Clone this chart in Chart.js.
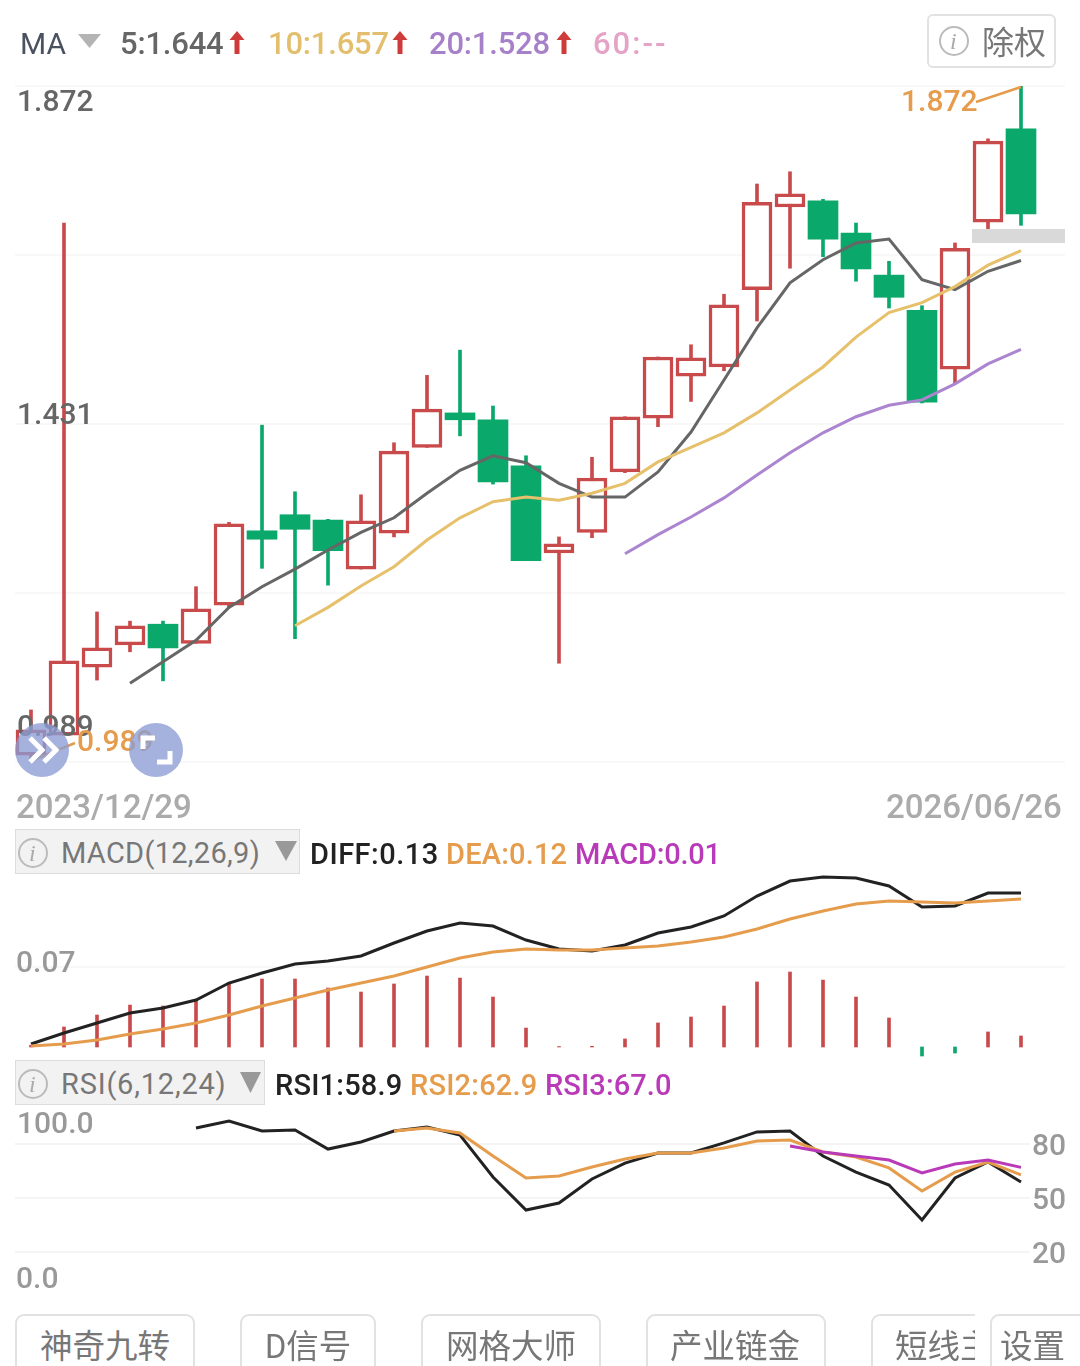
<!DOCTYPE html>
<html>
<head>
<meta charset="utf-8">
<title>K线</title>
<script src="https://cdn.jsdelivr.net/npm/chart.js@4/dist/chart.umd.min.js"></script>
<style>
  html, body { margin: 0; padding: 0; background: #fff; }
  #page { position: relative; width: 1080px; height: 1366px; overflow: hidden; font-family: Roboto, "Noto Sans CJK SC", sans-serif; }
  #page canvas { position: absolute; left: 0; top: 0; }
  .t { position: absolute; white-space: nowrap; line-height: 1; transform: translateY(-50%); }
  .box { position: absolute; box-sizing: border-box; }
  .tabs { border: 2px solid #e2e2e2; border-bottom: none; border-radius: 9px 9px 0 0; background: #fff; overflow: hidden; }
  svg { position: absolute; left: 0; top: 0; }
</style>
</head>
<body>
<div id="page">
  <canvas id="kline" width="1080" height="1366"></canvas>
  <canvas id="macd" width="1080" height="1366"></canvas>
  <canvas id="rsi" width="1080" height="1366"></canvas>
</div>
<script>
// daily candles, oldest first
const opens  = [0.998,1.024,1.113,1.142,1.169,1.144,1.194,1.291,1.312,1.305,1.241,1.288,1.400,1.445,1.436,1.376,1.262,1.289,1.368,1.438,1.493,1.505,1.606,1.714,1.722,1.680,1.625,1.579,1.502,1.694,1.816];
const closes = [1.031,1.121,1.138,1.167,1.138,1.189,1.300,1.280,1.293,1.265,1.304,1.395,1.450,1.436,1.355,1.252,1.274,1.360,1.440,1.518,1.517,1.586,1.720,1.731,1.672,1.633,1.596,1.459,1.660,1.800,1.705];
const highs  = [1.057,1.693,1.185,1.173,1.173,1.218,1.302,1.429,1.342,1.306,1.338,1.406,1.494,1.527,1.454,1.389,1.283,1.387,1.440,1.518,1.534,1.600,1.744,1.760,1.724,1.693,1.643,1.585,1.667,1.803,1.872];
const lows   = [0.989,1.024,1.096,1.133,1.095,1.144,1.191,1.242,1.150,1.220,1.241,1.283,1.400,1.415,1.352,1.252,1.118,1.282,1.367,1.427,1.460,1.500,1.565,1.634,1.649,1.617,1.582,1.458,1.483,1.685,1.690];

// moving averages, they start once enough days exist
const ma5Start = 3;
const ma5 = [1.092,1.120,1.148,1.191,1.218,1.241,1.266,1.289,1.308,1.340,1.370,1.389,1.380,1.353,1.335,1.335,1.368,1.420,1.488,1.556,1.615,1.645,1.667,1.672,1.619,1.606,1.630,1.644];
const ma10Start = 8;
const ma10 = [1.167,1.191,1.219,1.244,1.279,1.308,1.329,1.335,1.331,1.340,1.353,1.381,1.400,1.419,1.445,1.475,1.505,1.544,1.576,1.589,1.610,1.638,1.657];
const ma20Start = 18;
const ma20 = [1.261,1.286,1.309,1.334,1.364,1.393,1.419,1.440,1.455,1.462,1.483,1.509,1.528];

const diff = [0.0025,0.0118,0.0203,0.0287,0.0329,0.0397,0.0540,0.0625,0.0701,0.0726,0.0768,0.0878,0.0979,0.1047,0.1021,0.0903,0.0827,0.0810,0.0861,0.0962,0.1013,0.1106,0.1274,0.1401,0.1435,0.1426,0.1359,0.1182,0.1190,0.1300,0.1300];
const dea  = [0.0008,0.0025,0.0059,0.0110,0.0152,0.0203,0.0270,0.0346,0.0414,0.0481,0.0540,0.0599,0.0675,0.0751,0.0802,0.0827,0.0819,0.0819,0.0836,0.0852,0.0886,0.0928,0.0996,0.1080,0.1148,0.1207,0.1232,0.1224,0.1215,0.1232,0.1249];
const macdBars = [0.0015,0.0169,0.0270,0.0354,0.0346,0.0397,0.0540,0.0574,0.0574,0.0498,0.0464,0.0532,0.0599,0.0582,0.0422,0.0160,0.0004,0.0006,0.0068,0.0203,0.0253,0.0346,0.0549,0.0633,0.0565,0.0422,0.0245,-0.0076,-0.0051,0.0127,0.0093];

const rsi1Start = 5;
const rsi1 = [88.9,92.8,87.2,87.8,77.2,81.1,87.2,89.4,85.0,61.7,43.3,47.2,60.6,69.4,75.0,75.0,80.6,86.7,87.2,73.3,64.4,57.2,37.8,61.1,70.0,58.9];
const rsi2Start = 11;
const rsi2 = [87.2,88.9,86.1,73.3,61.1,62.2,67.2,71.7,75.0,75.0,77.8,81.7,82.2,75.6,72.8,66.7,53.9,64.4,70.0,62.9];
const rsi3Start = 23;
const rsi3 = [78.9,75.6,73.3,71.1,63.9,68.9,71.1,67.0];

// axis values
const priceGrid = [1.872,1.651,1.431,1.210,0.989];
const macdGrid = [0.0675];
const rsiGrid = [80,50,20];
const dates = ['2023/12/29','2026/06/26'];
const tabs = ['神奇九转','D信号','网格大师','产业链金','短线主力','设置'];

const RED = '#c94a4b';
const GREEN = '#0aa86a';
const ORANGE = '#e59c4c';
const PURPLE = '#b93ab8';
const BLACK = '#222222';
const GRID = '#f8f8f8';
const FONT = 'Roboto, sans-serif';

// first candle centre and candle pitch in the drawing
const X0 = 31;
const PITCH = 33;

const last = a => a[a.length - 1];
const page = document.getElementById('page');

function addText(text, x, y, size, color, spacing, parent) {
  const el = document.createElement('div');
  el.className = 't';
  el.textContent = text;
  el.style.cssText = `left:${x}px;top:${y}px;font-size:${size}px;color:${color};letter-spacing:${spacing || 0}px`;
  (parent || page).appendChild(el);
  return el;
}
function addBox(x, y, w, h, css, cls) {
  const el = document.createElement('div');
  el.className = 'box ' + (cls || '');
  el.style.cssText = `left:${x}px;top:${y}px;width:${w}px;height:${h}px;${css || ''}`;
  page.appendChild(el);
  return el;
}
function addSvg(inner, css) {
  const wrap = document.createElement('div');
  wrap.innerHTML = `<svg width="1080" height="1366" style="${css || ''}">${inner}</svg>`;
  page.appendChild(wrap);
}

function points(values, start) {
  return values.map((v, i) => ({ x: start + i, y: v }));
}
function lineSet(values, start, color, width, order) {
  return { type: 'line', data: points(values, start), borderColor: color, borderWidth: width,
           pointRadius: 0, tension: 0, order: order };
}
// plot rectangle of a panel inside the full-page canvas
function panelOptions(area, yMin, yMax, gridValues) {
  return {
    responsive: false,
    animation: false,
    events: [],
    layout: { padding: { left: area.left, top: area.top, right: 1080 - area.right, bottom: 1366 - area.bottom } },
    plugins: { legend: { display: false }, tooltip: { enabled: false } },
    scales: {
      x: { type: 'linear', display: false, offset: false, min: (area.left - X0) / PITCH, max: (area.right - X0) / PITCH },
      y: {
        min: yMin, max: yMax,
        border: { display: false },
        grid: { color: GRID, lineWidth: 2, drawTicks: false },
        ticks: { display: false },
        afterFit: s => { s.width = 0; },
        afterBuildTicks: s => { s.ticks = gridValues.map(v => ({ value: v })); }
      }
    }
  };
}
function drawLabel(ctx, text, x, y, color, size) {
  ctx.save();
  ctx.font = `500 ${size}px ${FONT}`;
  ctx.fillStyle = color;
  ctx.textBaseline = 'middle';
  ctx.fillText(text, x, y);
  ctx.restore();
}

// candles: wick and body are two floating bar sets
const idx = opens.map((_, i) => i);
const candleColor = i => (closes[i] >= opens[i] ? RED : GREEN);

new Chart(document.getElementById('kline'), {
  type: 'bar',
  data: {
    datasets: [
      lineSet(ma20, ma20Start, '#ab85cf', 3, 1),
      lineSet(ma10, ma10Start, '#e6c06a', 3, 1),
      lineSet(ma5, ma5Start, '#666666', 3, 1),
      { data: idx.map(i => ({ x: i, y: [opens[i], closes[i]] })), grouped: false, order: 2, barThickness: 30,
        borderSkipped: false, borderWidth: idx.map(i => (closes[i] >= opens[i] ? 3.5 : 0)),
        borderColor: idx.map(candleColor),
        backgroundColor: idx.map(i => (closes[i] >= opens[i] ? '#ffffff' : GREEN)) },
      { data: idx.map(i => ({ x: i, y: [lows[i], highs[i]] })), grouped: false, order: 3, barThickness: 3,
        borderWidth: 0, backgroundColor: idx.map(candleColor) }
    ]
  },
  options: panelOptions({ left: 15, right: 1065, top: 86, bottom: 762 }, priceGrid[4], priceGrid[0], priceGrid),
  plugins: [{
    id: 'priceLabels',
    afterDraw(chart) {
      const { ctx, scales: { x, y } } = chart;
      drawLabel(ctx, priceGrid[0].toFixed(3), 17, 103, '#666', 30);
      drawLabel(ctx, priceGrid[2].toFixed(3), 17, 416, '#666', 30);
      drawLabel(ctx, priceGrid[4].toFixed(3), 17, 728, '#666', 30);

      // high and low callouts
      const hiX = x.getPixelForValue(highs.indexOf(Math.max(...highs)));
      const loX = x.getPixelForValue(lows.indexOf(Math.min(...lows)));
      ctx.save();
      ctx.strokeStyle = ORANGE;
      ctx.lineWidth = 2.5;
      ctx.beginPath();
      ctx.moveTo(hiX, y.getPixelForValue(Math.max(...highs)) + 1);
      ctx.lineTo(976, 102);
      ctx.moveTo(loX, y.getPixelForValue(Math.min(...lows)) - 1);
      ctx.lineTo(75, 743);
      ctx.stroke();
      ctx.restore();
      drawLabel(ctx, Math.max(...highs).toFixed(3), 901, 103, ORANGE, 30);
      drawLabel(ctx, Math.min(...lows).toFixed(3), 77, 743, ORANGE, 30);
    }
  }]
});

new Chart(document.getElementById('macd'), {
  type: 'bar',
  data: {
    datasets: [
      lineSet(dea, 0, ORANGE, 3, 1),
      lineSet(diff, 0, BLACK, 3, 2),
      { data: macdBars.map((v, i) => ({ x: i, y: v })), grouped: false, order: 3, barThickness: 3,
        backgroundColor: macdBars.map(v => (v >= 0 ? RED : GREEN)) }
    ]
  },
  // 0 sits at y=1047, one unit is 1185 px
  options: panelOptions({ left: 15, right: 1065, top: 870, bottom: 1060 }, -0.01097, 0.1494, macdGrid),
  plugins: [{
    id: 'macdLabels',
    afterDraw(chart) {
      drawLabel(chart.ctx, macdGrid[0].toFixed(2), 16, 964, '#999', 30);
    }
  }]
});

const rsiOptions = panelOptions({ left: 15, right: 1030, top: 1108, bottom: 1288 }, 0, 100, rsiGrid);
rsiOptions.scales.y.position = 'right';
rsiOptions.scales.y.grid.color = '#f4f4f4';
rsiOptions.scales.y.ticks = { display: true, color: '#999', padding: 2, labelOffset: 3, font: { family: FONT, size: 30, weight: '500' } };
rsiOptions.scales.y.afterFit = s => { s.width = 50; };
rsiOptions.layout.padding.right = 0;
new Chart(document.getElementById('rsi'), {
  type: 'line',
  data: {
    datasets: [
      lineSet(rsi3, rsi3Start, PURPLE, 3, 1),
      lineSet(rsi2, rsi2Start, ORANGE, 3, 2),
      lineSet(rsi1, rsi1Start, BLACK, 3, 3)
    ]
  },
  options: rsiOptions,
  plugins: [{
    id: 'rsiLabels',
    afterDraw(chart) {
      drawLabel(chart.ctx, (100).toFixed(1), 17, 1125, '#999', 30);
      drawLabel(chart.ctx, (0).toFixed(1), 16, 1280, '#999', 30);
    }
  }]
});

const medium = el => { el.style.fontWeight = 500; return el; };

// header row
addText('MA', 20, 44, 30, '#4a5260');
medium(addText('5:' + last(ma5).toFixed(3), 120, 43, 31, '#666666', -0.2));
medium(addText('10:' + last(ma10).toFixed(3), 268, 43, 31, '#e3bf6d', -0.2));
medium(addText('20:' + last(ma20).toFixed(3), 429, 43, 31, '#a680c8', -0.2));
medium(addText('60:--', 593, 43, 31, '#e5a3c8', 2));

// little grey triangles and red up arrows
const arrow = x => `<path d="M${x} 31 l7.500 9 h-5 v14 h-5 v-14 h-5 z" fill="#cf3a3a"/>`;
addSvg(
  '<path d="M78 34 h23 l-11.5 14 z" fill="#b4b4b4"/>' +
  '<path d="M275 841 h22 l-11 20 z" fill="#999"/>' +
  '<path d="M240 1072 h21 l-10.500 21 z" fill="#999"/>' +
  arrow(237) + arrow(400) + arrow(564),
  'z-index:3'
);

addBox(972, 229, 93, 14, 'background:#d9d9d9');

// 除权 button
addBox(927, 14, 129, 54, 'border:2px solid #e2e2e2;border-radius:6px');
addText('除权', 982, 43, 32, '#777');

// indicator selectors
addBox(15, 829, 285, 45, 'background:#f2f2f2;border:1px solid #dcdcdc');
addText('MACD(12,26,9)', 61, 853, 29, '#777', 0.3);
addBox(15, 1060, 250, 45, 'background:#f2f2f2;border:1px solid #dcdcdc');
addText('RSI(6,12,24)', 61, 1084, 29, '#777', 0.8);

// info marks
[[954, 41], [33, 853], [33, 1084]].forEach(([cx, cy]) => {
  addSvg(`<circle cx="${cx}" cy="${cy}" r="14" fill="none" stroke="#bbb" stroke-width="2"/>`, 'z-index:2');
  const mark = addText('i', cx - 4, cy, 24, '#aaa');
  mark.style.fontFamily = '"Liberation Serif", serif';
  mark.style.fontStyle = 'italic';
  mark.style.zIndex = 3;
});

medium(addText(dates[0], 16, 806, 33, '#ababab'));
medium(addText(dates[1], 886, 806, 33, '#ababab'));

medium(addText('DIFF:' + last(diff).toFixed(2), 310, 854, 29, BLACK, 0.5));
medium(addText('DEA:' + Math.floor(last(dea) * 100) / 100, 446, 854, 29, ORANGE, 0.2));
medium(addText('MACD:' + last(macdBars).toFixed(2), 575, 854, 29, PURPLE, -0.2));

medium(addText('RSI1:' + last(rsi1).toFixed(1), 275, 1085, 29, BLACK, 0.2));
medium(addText('RSI2:' + last(rsi2).toFixed(1), 410, 1085, 29, ORANGE, 0.2));
medium(addText('RSI3:' + last(rsi3).toFixed(1), 545, 1085, 29, PURPLE, 0.1));

// bottom tab row, the fifth tab is cut off by the last one
[[15, 180, 25], [240, 136, 25], [421, 180, 25], [646, 180, 24], [871, 180, 24], [990, 120, 10]].forEach(([x, w, pad], i) => {
  const tab = addBox(x, 1314, i === 4 ? 104 : w, 70, i === 4 ? 'border-right:none;border-radius:9px 0 0 0' : '', 'tabs');
  addText(tabs[i], pad - 2, 31, 32.5, '#777', 0, tab);
});

// round overlay buttons above the chart
addBox(15, 723, 54, 54, 'background:rgba(140,156,212,.78);border-radius:50%;z-index:4');
addBox(129, 723, 54, 54, 'background:rgba(140,156,212,.78);border-radius:50%;z-index:4');
addSvg(
  '<path d="M30 738 l12 12 l-12 12 M44 738 l12 12 l-12 12" fill="none" stroke="#fff" stroke-width="5"/>' +
  '<path d="M155 738 h-12 v11 M157 762 h13 v-11" fill="none" stroke="#fff" stroke-width="5"/>',
  'z-index:5'
);
</script>
</body>
</html>
